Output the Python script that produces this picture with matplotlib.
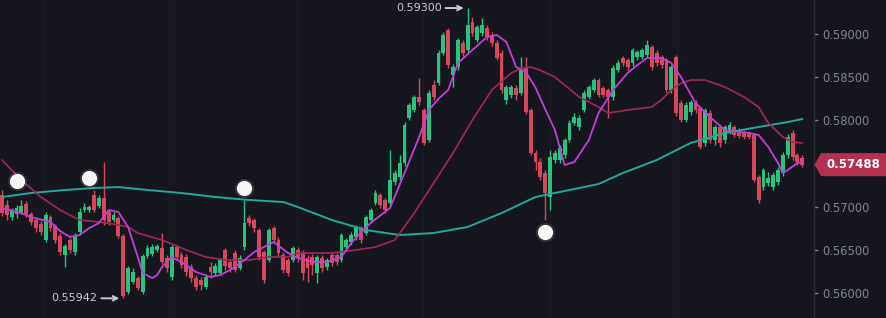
import matplotlib
matplotlib.use("Agg")
import matplotlib.pyplot as plt
from matplotlib.patches import Polygon
import numpy as np

# ---------------- data ----------------
opens = [0.57137,0.57021,0.56882,0.56917,0.56940,0.57033,0.56917,0.56848,0.56802,0.56616,
         0.56882,0.56778,0.56663,0.56443,0.56616,0.56478,0.56709,0.56963,0.56963,0.57137,
         0.57010,0.57102,0.56940,0.56848,0.56871,0.56663,0.56015,0.56130,0.56176,0.56015,
         0.56431,0.56455,0.56501,0.56524,0.56408,0.56188,0.56535,0.56443,0.56420,0.56304,
         0.56176,0.56153,0.56073,0.56304,0.56234,0.56234,0.56501,0.56362,0.56466,0.56292,
         0.56535,0.56871,0.56848,0.56732,0.56478,0.56385,0.56755,0.56616,0.56443,0.56385,
         0.56385,0.56501,0.56466,0.56408,0.56420,0.56234,0.56408,0.56304,0.56443,0.56443,
         0.56385,0.56535,0.56593,0.56651,0.56755,0.56697,0.56848,0.57044,0.57137,0.57079,
         0.57044,0.57287,0.57345,0.57507,0.58028,0.58120,0.58271,0.58120,0.57773,0.58410,
         0.58433,0.58780,0.59046,0.58526,0.58618,0.58896,0.58815,0.59138,0.58930,0.59011,
         0.59069,0.58988,0.58896,0.58780,0.58236,0.58294,0.58375,0.58317,0.58618,0.58120,
         0.57623,0.57519,0.57391,0.57114,0.57542,0.57542,0.57600,0.57773,0.57970,0.57924,
         0.58120,0.58271,0.58352,0.58467,0.58375,0.58352,0.58271,0.58583,0.58722,0.58699,
         0.58664,0.58734,0.58734,0.58757,0.58849,0.58780,0.58734,0.58699,0.58352,0.58734,
         0.58201,0.58005,0.58097,0.58201,0.58143,0.57739,0.58086,0.57773,0.57924,0.57773,
         0.57866,0.57924,0.57889,0.57866,0.57854,0.57831,0.57345,0.57229,0.57276,0.57229,
         0.57287,0.57391,0.57600,0.57854,0.57600,0.57565]
highs = [0.57195,0.57079,0.56986,0.57021,0.57079,0.57067,0.56940,0.56871,0.56836,0.56940,
         0.56905,0.56802,0.56697,0.56570,0.56639,0.56697,0.56986,0.57044,0.57021,0.57195,
         0.57137,0.57519,0.56963,0.56940,0.56894,0.56686,0.56316,0.56292,0.56199,0.56455,
         0.56558,0.56570,0.56570,0.56697,0.56443,0.56558,0.56558,0.56478,0.56455,0.56339,
         0.56211,0.56188,0.56223,0.56362,0.56350,0.56408,0.56524,0.56385,0.56501,0.56443,
         0.57079,0.56905,0.56871,0.56755,0.56501,0.56755,0.56778,0.56651,0.56478,0.56408,
         0.56547,0.56535,0.56501,0.56443,0.56455,0.56443,0.56443,0.56408,0.56466,0.56466,
         0.56697,0.56639,0.56709,0.56790,0.56778,0.56905,0.56986,0.57195,0.57160,0.57102,
         0.57658,0.57426,0.57600,0.57981,0.58201,0.58294,0.58491,0.58143,0.58352,0.58467,
         0.58815,0.59023,0.59069,0.58653,0.58954,0.58930,0.59300,0.59196,0.59104,0.59185,
         0.59104,0.59023,0.58930,0.58815,0.58410,0.58410,0.58410,0.58734,0.58734,0.58143,
         0.57658,0.57565,0.57426,0.57658,0.57658,0.57716,0.57797,0.58005,0.58086,0.58062,
         0.58352,0.58410,0.58491,0.58491,0.58398,0.58375,0.58641,0.58699,0.58745,0.58722,
         0.58838,0.58815,0.58838,0.58930,0.58872,0.58815,0.58757,0.58722,0.58641,0.58757,
         0.58236,0.58213,0.58236,0.58236,0.58166,0.58143,0.58120,0.57947,0.57958,0.57947,
         0.57981,0.57947,0.57912,0.57889,0.57877,0.57854,0.57368,0.57449,0.57403,0.57403,
         0.57461,0.57635,0.57843,0.57889,0.57623,0.57600]
lows = [0.56894,0.56848,0.56848,0.56871,0.56917,0.56882,0.56790,0.56709,0.56674,0.56593,
        0.56720,0.56581,0.56443,0.56304,0.56466,0.56443,0.56674,0.56940,0.56940,0.56940,
        0.56986,0.56790,0.56790,0.56825,0.56639,0.55942,0.55991,0.56107,0.56038,0.55991,
        0.56408,0.56431,0.56478,0.56339,0.56246,0.56153,0.56385,0.56292,0.56199,0.56130,
        0.56038,0.56038,0.56049,0.56176,0.56199,0.56211,0.56269,0.56246,0.56246,0.56269,
        0.56501,0.56778,0.56709,0.56385,0.56118,0.56362,0.56581,0.56431,0.56234,0.56199,
        0.56362,0.56362,0.56153,0.56130,0.56211,0.56118,0.56246,0.56269,0.56316,0.56327,
        0.56362,0.56501,0.56558,0.56616,0.56581,0.56674,0.56825,0.57021,0.56986,0.56928,
        0.57021,0.57252,0.57310,0.57472,0.58005,0.58097,0.58178,0.57716,0.57750,0.58236,
        0.58410,0.58757,0.58606,0.58387,0.58583,0.58745,0.58780,0.58977,0.58907,0.58977,
        0.58930,0.58861,0.58699,0.58317,0.58190,0.58259,0.58236,0.58294,0.58074,0.57600,
        0.57426,0.57310,0.56848,0.56963,0.57507,0.57507,0.57565,0.57750,0.57947,0.57889,
        0.58097,0.58248,0.58329,0.58271,0.58271,0.58028,0.58236,0.58560,0.58630,0.58583,
        0.58630,0.58699,0.58710,0.58734,0.58583,0.58630,0.58606,0.58329,0.58317,0.58051,
        0.57981,0.57981,0.58062,0.58086,0.57669,0.57704,0.57739,0.57716,0.57692,0.57739,
        0.57843,0.57808,0.57797,0.57785,0.57785,0.57287,0.57044,0.57195,0.57241,0.57195,
        0.57252,0.57357,0.57565,0.57542,0.57484,0.57461]
closes = [0.56928,0.56905,0.56963,0.56986,0.57010,0.56917,0.56825,0.56755,0.56709,0.56905,
          0.56755,0.56616,0.56478,0.56547,0.56501,0.56663,0.56940,0.56998,0.56998,0.56963,
          0.57102,0.56848,0.56825,0.56905,0.56663,0.55968,0.56292,0.56246,0.56061,0.56431,
          0.56524,0.56535,0.56547,0.56362,0.56292,0.56535,0.56420,0.56327,0.56246,0.56176,
          0.56073,0.56095,0.56188,0.56246,0.56316,0.56385,0.56316,0.56292,0.56269,0.56408,
          0.56813,0.56813,0.56755,0.56420,0.56153,0.56732,0.56616,0.56466,0.56269,0.56234,
          0.56524,0.56408,0.56234,0.56292,0.56327,0.56420,0.56292,0.56385,0.56350,0.56362,
          0.56674,0.56616,0.56674,0.56767,0.56616,0.56882,0.56963,0.57160,0.57021,0.56963,
          0.57310,0.57391,0.57507,0.57947,0.58178,0.58271,0.58213,0.57739,0.58317,0.58271,
          0.58780,0.58988,0.58641,0.58618,0.58930,0.58780,0.59104,0.59011,0.59081,0.59104,
          0.58965,0.58896,0.58722,0.58352,0.58387,0.58387,0.58294,0.58583,0.58097,0.57623,
          0.57519,0.57345,0.57160,0.57577,0.57623,0.57681,0.57773,0.57970,0.58039,0.58028,
          0.58317,0.58387,0.58467,0.58294,0.58294,0.58271,0.58606,0.58664,0.58664,0.58618,
          0.58815,0.58791,0.58815,0.58872,0.58618,0.58664,0.58641,0.58352,0.58618,0.58086,
          0.58005,0.58178,0.58213,0.58120,0.57692,0.58120,0.57773,0.57924,0.57739,0.57924,
          0.57947,0.57831,0.57820,0.57808,0.57808,0.57310,0.57079,0.57426,0.57334,0.57368,
          0.57426,0.57600,0.57808,0.57577,0.57519,0.57488]

# moving averages (candle index, price)
ma_fast_idx = [0,4,6,10,12,14,16,18,20,22,24,26,28,29,31,32,33,35,38,40,43,45,47,50,52,54,56,59,61,
               64,67,70,72,74,76,78,80,83,86,88,90,92,94,97,100,102,104,106,108,110,112,114,116,
               118,121,123,126,129,131,133,136,138,140,143,146,149,152,154,156,158,160,161,162,164,165]
ma_fast = [0.56986,0.56928,0.56882,0.56825,0.56720,0.56651,0.56674,0.56755,0.56813,0.56963,0.56940,
           0.56767,0.56420,0.56234,0.56176,0.56211,0.56304,0.56420,0.56327,0.56246,0.56188,0.56211,
           0.56269,0.56385,0.56478,0.56535,0.56593,0.56466,0.56408,0.56362,0.56362,0.56420,0.56581,
           0.56700,0.56813,0.56900,0.56986,0.57391,0.57808,0.58120,0.58250,0.58352,0.58664,0.58815,
           0.58965,0.58988,0.58907,0.58618,0.58560,0.58380,0.58130,0.57889,0.57484,0.57519,0.57773,
           0.58086,0.58352,0.58549,0.58640,0.58722,0.58722,0.58664,0.58502,0.58201,0.58039,0.57889,
           0.57866,0.57854,0.57831,0.57692,0.57507,0.57391,0.57426,0.57507,0.57519]
ma_mid_idx = [0,4,8,12,16,20,23,26,28,33,38,42,46,51,55,59,61,68,73,77,81,85,89,93,97,101,105,107,109,
              111,114,119,123,125,129,134,136,138,140,142,145,149,153,156,158,161,163,165]
ma_mid = [0.57542,0.57310,0.57114,0.56963,0.56848,0.56825,0.56800,0.56767,0.56697,0.56616,0.56501,
          0.56420,0.56385,0.56385,0.56420,0.56420,0.56466,0.56466,0.56501,0.56535,0.56616,0.56928,
          0.57276,0.57623,0.58005,0.58352,0.58549,0.58600,0.58618,0.58580,0.58502,0.58271,0.58155,
          0.58086,0.58120,0.58155,0.58240,0.58352,0.58430,0.58467,0.58467,0.58387,0.58271,0.58155,
          0.57970,0.57808,0.57750,0.57739]
ma_slow_idx = [0,6,13,19,24,30,37,44,51,58,61,68,75,82,89,96,103,110,117,123,128,135,142,149,156,162,165]
ma_slow = [0.57114,0.57160,0.57195,0.57218,0.57229,0.57195,0.57160,0.57114,0.57079,0.57056,0.56998,
           0.56848,0.56732,0.56674,0.56697,0.56767,0.56928,0.57114,0.57195,0.57264,0.57391,0.57542,
           0.57739,0.57854,0.57924,0.57981,0.58016]

marker_idx = [3, 18, 50, 112]
marker_price = [0.57299, 0.57334, 0.57218, 0.56709]

y_ticks = [0.56000, 0.56500, 0.57000, 0.57500, 0.58000, 0.58500, 0.59000]
y_tick_labels = ["0.56000", "0.56500", "0.57000", "", "0.58000", "0.58500", "0.59000"]
high_label = "0.59300"
low_label = "0.55942"
last_label = "0.57488"

# ---------------- style ----------------
BG = "#16171e"
UP = "#27c47f"
DOWN = "#d8475d"
C_FAST = "#c33fd8"
C_MID = "#a3275a"
C_SLOW = "#22a89c"
TXT = "#80838d"

W, H = 886, 318
fig = plt.figure(figsize=(W / 100, H / 100), dpi=100)
fig.patch.set_facecolor(BG)
ax = fig.add_axes([0, 0, 814 / W, 1])
ax.set_facecolor(BG)

n = len(closes)
x = np.arange(n)
o = np.array(opens); c = np.array(closes); hi = np.array(highs); lo = np.array(lows)
col = np.where(c >= o, UP, DOWN)

ax.set_xlim(-0.41, 167.42)
ax.set_ylim(0.55714, 0.59393)

# faint vertical grid
for gx in [8.5, 34.6, 60.8, 86.9, 113.0, 139.2]:
    ax.axvline(gx, color="#1a1b23", lw=1, zorder=0)

ax.vlines(x, lo, hi, colors=col, lw=1.0, zorder=2)
body_lo = np.minimum(o, c)
body_h = np.maximum(np.abs(c - o), 0.00008)
ax.bar(x, body_h, bottom=body_lo, width=0.8, color=col, edgecolor="none", zorder=2.5)

ax.plot(ma_slow_idx, ma_slow, color=C_SLOW, lw=1.4, zorder=3, solid_joinstyle="round")
ax.plot(ma_mid_idx, ma_mid, color=C_MID, lw=1.2, zorder=3, solid_joinstyle="round")
ax.plot(ma_fast_idx, ma_fast, color=C_FAST, lw=1.3, zorder=3.2, solid_joinstyle="round")

# glowing white dots
ax.scatter(marker_idx, marker_price, s=190, color="white", alpha=0.12, zorder=4, linewidths=0)
ax.scatter(marker_idx, marker_price, s=120, color="#f6f6f6", zorder=4.5, linewidths=0)

# high / low annotations
i_hi = int(np.argmax(hi)); i_lo = int(np.argmin(lo))
ax.annotate(high_label, xy=(i_hi - 0.8, hi[i_hi]), xytext=(-16, 0), textcoords="offset points",
            ha="right", va="center", color="#c9cad0", fontsize=8,
            arrowprops=dict(arrowstyle="->", color="#c9cad0", lw=1.4, shrinkA=1, shrinkB=0))
ax.annotate(low_label, xy=(i_lo - 0.8, lo[i_lo]), xytext=(-16, 0), textcoords="offset points",
            ha="right", va="center", color="#c9cad0", fontsize=8,
            arrowprops=dict(arrowstyle="->", color="#c9cad0", lw=1.4, shrinkA=1, shrinkB=0))

# right axis
for s in ["top", "left", "bottom"]:
    ax.spines[s].set_visible(False)
ax.spines["right"].set_color("#2a2b33")
ax.spines["right"].set_linewidth(1)
ax.set_xticks([])
ax.yaxis.tick_right()
ax.set_yticks(y_ticks)
ax.set_yticklabels(y_tick_labels)
ax.tick_params(axis="y", colors=TXT, labelcolor=TXT, labelsize=8.3, length=3, width=1, pad=3)

# last price label
fig.canvas.draw()
_, yd = ax.transData.transform((0, closes[-1]))
x0 = 814.5
poly = Polygon([[x0, yd], [x0 + 6.5, yd + 11.5], [W, yd + 11.5], [W, yd - 11.5], [x0 + 6.5, yd - 11.5]],
               closed=True, transform=None, facecolor="#b3314e", edgecolor="none", zorder=5)
fig.patches.append(poly)
fig.text((x0 + 6.5 + (W - x0 - 6.5) / 2) / W, yd / H, last_label, color="white", fontsize=8.5,
         fontweight="bold", ha="center", va="center", zorder=6)

fig.savefig("out.png", dpi=100, facecolor=BG)
